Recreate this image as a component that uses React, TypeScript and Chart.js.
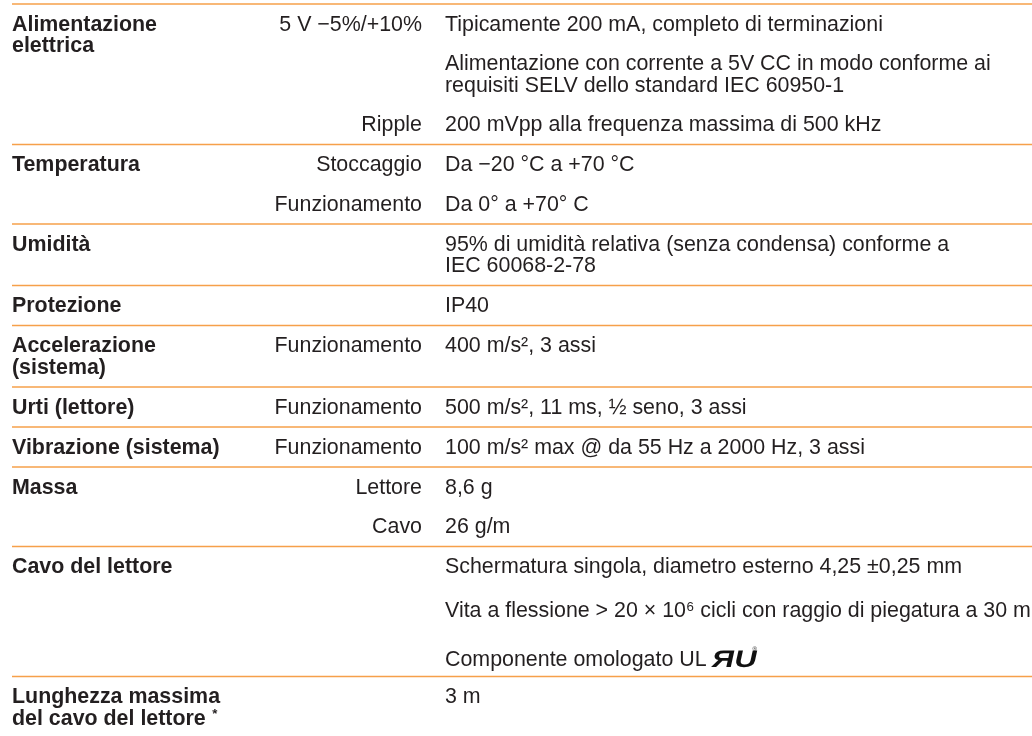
import React, { useEffect, useRef } from "react";
import { Chart, registerables } from "chart.js";

Chart.register(...registerables);

// ---- table content ----
const rowLabels: string[][] = [
  ["Alimentazione", "elettrica"],
  ["Temperatura"],
  ["Umidità"],
  ["Protezione"],
  ["Accelerazione", "(sistema)"],
  ["Urti (lettore)"],
  ["Vibrazione (sistema)"],
  ["Massa"],
  ["Cavo del lettore"],
  ["Lunghezza massima", "del cavo del lettore ^{*}"],
];

const subLabels: string[][] = [
  ["5 V −5%/+10%", "", "Ripple"],
  ["Stoccaggio", "Funzionamento"],
  [""],
  [""],
  ["Funzionamento"],
  ["Funzionamento"],
  ["Funzionamento"],
  ["Lettore", "Cavo"],
  ["", "", ""],
  [""],
];

const valueParagraphs: string[][][] = [
  [
    ["Tipicamente 200 mA, completo di terminazioni"],
    [
      "Alimentazione con corrente a 5V CC in modo conforme ai",
      "requisiti SELV dello standard IEC 60950-1",
    ],
    ["200 mVpp alla frequenza massima di 500 kHz"],
  ],
  [["Da −20 °C a +70 °C"], ["Da 0° a +70° C"]],
  [["95% di umidità relativa (senza condensa) conforme a", "IEC 60068-2-78"]],
  [["IP40"]],
  [["400 m/s², 3 assi"]],
  [["500 m/s², 11 ms, ½ seno, 3 assi"]],
  [["100 m/s² max @ da 55 Hz a 2000 Hz, 3 assi"]],
  [["8,6 g"], ["26 g/m"]],
  [
    ["Schermatura singola, diametro esterno 4,25 ±0,25 mm"],
    ["Vita a flessione > 20 × 10^{6} cicli con raggio di piegatura a 30 mm"],
    ["Componente omologato UL{UL}"],
  ],
  [["3 m"]],
];

// ---- styling / layout constants ----
const W = 1032;
const H = 736;
const FONT_SIZE = 21.4;
const FAMILY = '"Liberation Sans", Arial, Helvetica, sans-serif';
const TEXT_COLOR = "#231f20";
const RULE_COLOR = "#f6a04a";
const LABEL_X = 12;
const SUB_RIGHT_X = 422;
const VALUE_X = 445;
const RULE_LEFT = 12;
const RULE_RIGHT = 1032;
const TOP_RULE = 4;
const FIRST_BASE = 26.5;
const WRAP = 21.5;
const PARA = 39.5;
const PAD = 13.5;

type Seg = { t: string; kind: "n" | "sup" | "logo" };

function parse(s: string): Seg[] {
  const out: Seg[] = [];
  const re = /\^\{([^}]*)\}|\{UL\}/g;
  let last = 0;
  let m: RegExpExecArray | null;
  while ((m = re.exec(s))) {
    if (m.index > last) out.push({ t: s.slice(last, m.index), kind: "n" });
    if (m[0] === "{UL}") out.push({ t: "ЯU", kind: "logo" });
    else out.push({ t: m[1], kind: "sup" });
    last = m.index + m[0].length;
  }
  if (last < s.length) out.push({ t: s.slice(last), kind: "n" });
  return out;
}

function font(bold: boolean, size: number) {
  return `${bold ? "bold " : ""}${size}px ${FAMILY}`;
}

function measureRich(ctx: CanvasRenderingContext2D, s: string, bold: boolean) {
  let w = 0;
  for (const seg of parse(s)) {
    if (seg.kind === "n") {
      ctx.font = font(bold, FONT_SIZE);
      w += ctx.measureText(seg.t).width;
    } else if (seg.kind === "sup") {
      ctx.font = font(bold, FONT_SIZE * 0.62);
      w += ctx.measureText(seg.t).width + 1;
    } else {
      w += 50;
    }
  }
  return w;
}

function drawRich(
  ctx: CanvasRenderingContext2D,
  s: string,
  x: number,
  y: number,
  bold: boolean,
  align: "left" | "right"
) {
  let cx = align === "right" ? x - measureRich(ctx, s, bold) : x;
  ctx.textAlign = "left";
  ctx.textBaseline = "alphabetic";
  ctx.fillStyle = TEXT_COLOR;
  for (const seg of parse(s)) {
    if (seg.kind === "n") {
      ctx.font = font(bold, FONT_SIZE);
      ctx.fillText(seg.t, cx, y);
      cx += ctx.measureText(seg.t).width;
    } else if (seg.kind === "sup") {
      ctx.font = font(bold, FONT_SIZE * 0.62);
      ctx.fillText(seg.t, cx + 0.5, y - FONT_SIZE * 0.3);
      cx += ctx.measureText(seg.t).width + 1;
    } else {
      // UL recognized component mark
      ctx.save();
      ctx.translate(cx + 4, y + 1);
      ctx.transform(1.3, 0, -0.22, 1, 0, 0);
      ctx.font = font(true, FONT_SIZE * 1.12);
      ctx.fillStyle = "#111";
      ctx.fillText(seg.t, 0, 0);
      ctx.restore();
      ctx.save();
      ctx.font = font(false, 6);
      ctx.fillStyle = "#111";
      ctx.fillText("®", cx + 46, y - FONT_SIZE * 0.68);
      ctx.restore();
      cx += 50;
    }
  }
}

const tablePlugin = {
  id: "specTable",
  afterDraw(chart: any) {
    const ctx: CanvasRenderingContext2D = chart.ctx;
    const xs = chart.scales.x;
    const ys = chart.scales.y;
    const px = (v: number) => xs.getPixelForValue(v);
    const py = (v: number) => ys.getPixelForValue(v);

    const rules: number[] = [TOP_RULE];
    let top = TOP_RULE;
    ctx.save();
    rowLabels.forEach((labels, r) => {
      const first = top + FIRST_BASE;
      // labels
      labels.forEach((l, i) => drawRich(ctx, l, px(LABEL_X), py(first + i * WRAP), true, "left"));
      const labelLast = first + (labels.length - 1) * WRAP;
      // value paragraphs
      let base = first;
      let lastBase = first;
      let pad = PAD;
      valueParagraphs[r].forEach((para, p) => {
        const txt = para.join(" ");
        const hasLogo = txt.includes("{UL}");
        const hasSup = txt.includes("^{");
        if (p > 0) base += PARA + (hasLogo ? 9 : hasSup ? 4.5 : 0);
        const sub = subLabels[r][p];
        if (sub) drawRich(ctx, sub, px(SUB_RIGHT_X), py(base), false, "right");
        para.forEach((line, i) => drawRich(ctx, line, px(VALUE_X), py(base + i * WRAP), false, "left"));
        lastBase = base + (para.length - 1) * WRAP;
        pad = hasLogo ? PAD - 2.5 : PAD;
        base = lastBase;
      });
      const bottom = Math.max(lastBase, labelLast) + pad;
      if (r < rowLabels.length - 1) rules.push(bottom);
      top = bottom;
    });

    ctx.strokeStyle = RULE_COLOR;
    ctx.lineWidth = 1.6;
    rules.forEach((y) => {
      ctx.beginPath();
      ctx.moveTo(px(RULE_LEFT), py(y));
      ctx.lineTo(px(RULE_RIGHT), py(y));
      ctx.stroke();
    });
    ctx.restore();
  },
};

export default function App() {
  const ref = useRef<HTMLCanvasElement | null>(null);
  useEffect(() => {
    document.body.style.margin = "0";
    document.body.style.background = "#ffffff";
    const canvas = ref.current!;
    const chart = new Chart(canvas, {
      type: "scatter",
      data: { datasets: [{ data: [], showLine: false }] },
      options: {
        animation: false,
        responsive: false,
        devicePixelRatio: 1,
        layout: { padding: 0 },
        plugins: { legend: { display: false }, tooltip: { enabled: false }, title: { display: false } },
        scales: {
          x: { type: "linear", display: false, min: 0, max: W },
          y: { type: "linear", display: false, min: 0, max: H, reverse: true },
        },
      },
      plugins: [tablePlugin],
    });
    return () => chart.destroy();
  }, []);
  return (
    <div style={{ width: W, height: H, background: "#fff", overflow: "hidden" }}>
      <canvas ref={ref} width={W} height={H} style={{ display: "block", width: W, height: H }} />
    </div>
  );
}
